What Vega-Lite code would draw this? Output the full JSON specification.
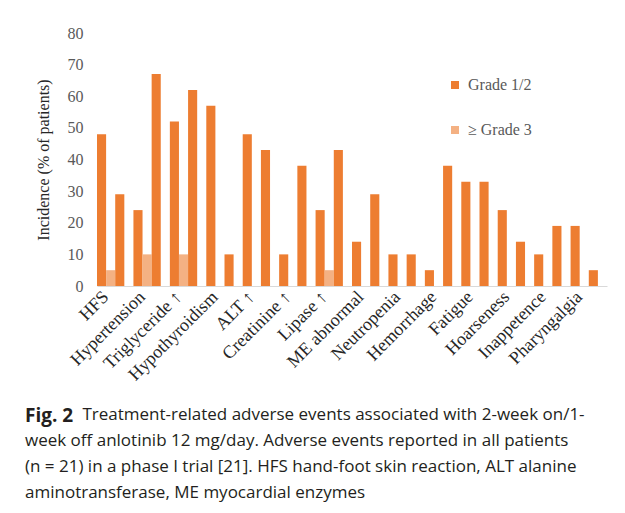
{
  "$schema": "https://vega.github.io/schema/vega-lite/v6.json",
  "autosize": {"type": "none"},
  "padding": {"left": 97, "top": 33, "right": 18, "bottom": 227},
  "width": 510,
  "height": 253,
  "background": "white",
  "config": {"view": {"stroke": null}},
  "title": {
    "text": "Fig. 2",
    "subtitle": [
      "\u200b\u00a0\u00a0\u00a0\u00a0\u00a0\u00a0\u00a0\u00a0\u00a0\u00a0\u00a0\u00a0\u00a0Treatment-related adverse events associated with 2-week on/1-",
      "week off anlotinib 12 mg/day. Adverse events reported in all patients",
      "(n = 21) in a phase I trial [21]. HFS hand-foot skin reaction, ALT alanine",
      "aminotransferase, ME myocardial enzymes"
    ],
    "orient": "bottom",
    "anchor": "start",
    "frame": "group",
    "dx": -72,
    "offset": 23,
    "font": "Open Sans",
    "fontSize": 19,
    "fontWeight": "bold",
    "color": "#231f20",
    "subtitleFont": "Open Sans",
    "subtitleFontSize": 17,
    "subtitleColor": "#231f20",
    "subtitleLineHeight": 26,
    "subtitlePadding": -19
  },
  "data": {
    "values": [
      {"slot": 1, "grade": "Grade 1/2", "value": 48},
      {"slot": 1, "grade": "≥ Grade 3", "value": 5},
      {"slot": 2, "grade": "Grade 1/2", "value": 29},
      {"slot": 3, "grade": "Grade 1/2", "value": 24},
      {"slot": 3, "grade": "≥ Grade 3", "value": 10},
      {"slot": 4, "grade": "Grade 1/2", "value": 67},
      {"slot": 5, "grade": "Grade 1/2", "value": 52},
      {"slot": 5, "grade": "≥ Grade 3", "value": 10},
      {"slot": 6, "grade": "Grade 1/2", "value": 62},
      {"slot": 7, "grade": "Grade 1/2", "value": 57},
      {"slot": 8, "grade": "Grade 1/2", "value": 10},
      {"slot": 9, "grade": "Grade 1/2", "value": 48},
      {"slot": 10, "grade": "Grade 1/2", "value": 43},
      {"slot": 11, "grade": "Grade 1/2", "value": 10},
      {"slot": 12, "grade": "Grade 1/2", "value": 38},
      {"slot": 13, "grade": "Grade 1/2", "value": 24},
      {"slot": 13, "grade": "≥ Grade 3", "value": 5},
      {"slot": 14, "grade": "Grade 1/2", "value": 43},
      {"slot": 15, "grade": "Grade 1/2", "value": 14},
      {"slot": 16, "grade": "Grade 1/2", "value": 29},
      {"slot": 17, "grade": "Grade 1/2", "value": 10},
      {"slot": 18, "grade": "Grade 1/2", "value": 10},
      {"slot": 19, "grade": "Grade 1/2", "value": 5},
      {"slot": 20, "grade": "Grade 1/2", "value": 38},
      {"slot": 21, "grade": "Grade 1/2", "value": 33},
      {"slot": 22, "grade": "Grade 1/2", "value": 33},
      {"slot": 23, "grade": "Grade 1/2", "value": 24},
      {"slot": 24, "grade": "Grade 1/2", "value": 14},
      {"slot": 25, "grade": "Grade 1/2", "value": 10},
      {"slot": 26, "grade": "Grade 1/2", "value": 19},
      {"slot": 27, "grade": "Grade 1/2", "value": 19},
      {"slot": 28, "grade": "Grade 1/2", "value": 5}
    ]
  },
  "mark": {"type": "bar"},
  "encoding": {
    "x": {
      "field": "slot",
      "type": "ordinal",
      "scale": {"paddingInner": 0, "paddingOuter": 0},
      "axis": {
        "title": null,
        "ticks": false,
        "domainColor": "#D9D9D9",
        "domainWidth": 1,
        "labelAngle": -45,
        "labelAlign": "right",
        "labelBaseline": "middle",
        "labelPadding": 8,
        "labelFont": "Liberation Serif",
        "labelFontSize": 18,
        "labelColor": "#262626",
        "labelOverlap": false,
        "labelExpr": "['HFS','','Hypertension','','Triglyceride ↑','','Hypothyroidism','','ALT ↑','','Creatinine ↑','','Lipase ↑','','ME abnormal','','Neutropenia','','Hemorrhage','','Fatigue','','Hoarseness','','Inappetence','','Pharyngalgia',''][datum.value - 1]"
      }
    },
    "xOffset": {
      "field": "grade",
      "type": "nominal",
      "scale": {"domain": ["Grade 1/2", "≥ Grade 3"], "paddingInner": 0, "paddingOuter": 0}
    },
    "y": {
      "field": "value",
      "type": "quantitative",
      "scale": {"domain": [0, 80], "nice": false},
      "axis": {
        "title": "Incidence (% of patients)",
        "titleFont": "Liberation Serif",
        "titleFontSize": 16,
        "titleFontWeight": "normal",
        "titleColor": "#262626",
        "titlePadding": 16,
        "values": [0, 10, 20, 30, 40, 50, 60, 70, 80],
        "grid": false,
        "domain": false,
        "ticks": false,
        "labelPadding": 14,
        "labelFont": "Liberation Serif",
        "labelFontSize": 16,
        "labelColor": "#595959"
      }
    },
    "color": {
      "field": "grade",
      "type": "nominal",
      "scale": {"domain": ["Grade 1/2", "≥ Grade 3"], "range": ["#ED7D31", "#F4B183"]},
      "legend": {
        "title": null,
        "orient": "none",
        "legendX": 350,
        "legendY": 44,
        "symbolType": "square",
        "symbolSize": 64,
        "symbolStrokeWidth": 0,
        "rowPadding": 29,
        "labelFont": "Liberation Serif",
        "labelFontSize": 16,
        "labelColor": "#595959",
        "labelOffset": 5
      }
    }
  }
}
